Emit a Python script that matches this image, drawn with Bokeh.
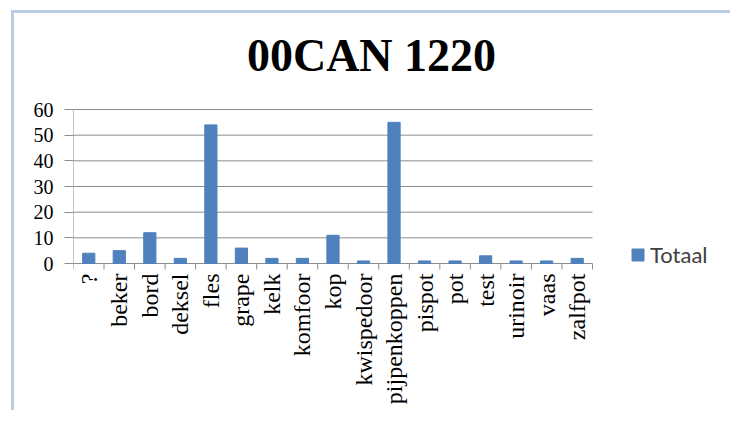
import math
from bokeh.plotting import figure
from bokeh.models import Range1d, FixedTicker, LinearAxis, Legend, LegendItem, ColumnDataSource, Label
from bokeh.embed import file_html
from bokeh.resources import INLINE

categories = ["?", "beker", "bord", "deksel", "fles", "grape", "kelk", "komfoor", "kop",
              "kwispedoor", "pijpenkoppen", "pispot", "pot", "test", "urinoir", "vaas", "zalfpot"]
totaal = [4, 5, 12, 2, 54, 6, 2, 2, 11, 1, 55, 1, 1, 3, 1, 1, 2]
y_ticks = [0, 10, 20, 30, 40, 50, 60]
title_text = "00CAN 1220"
series_name = "Totaal"

n = len(categories)
positions = list(range(1, n + 1))
boundaries = [i + 0.5 for i in range(0, n + 1)]
source = ColumnDataSource(dict(x=positions, top=totaal, cat=categories))
grid_src = ColumnDataSource(dict(x0=[0.5] * len(y_ticks), x1=[n + 0.5] * len(y_ticks),
                                 y=y_ticks))

GRAY = "#8C8C8C"
BAR = "#4F81BD"

W, H = 719, 400
LEFT = 59
ZERO_PX = 250           # canvas row of the 0 line
PLOT_TOP_PX = 96        # canvas row of the top gridline
BELOW_PX = 8            # frame continues a little below the 0 line
px_per_unit = (ZERO_PX - PLOT_TOP_PX) / (y_ticks[-1] - y_ticks[0])
y_top = y_ticks[0] + ZERO_PX / px_per_unit
y_bot = y_ticks[0] - BELOW_PX / px_per_unit
tick_len = 6 / px_per_unit
x_extra = 4.62          # room beyond the last category for the legend

p = figure(width=W, height=H, output_backend="svg", toolbar_location=None,
           x_range=Range1d(0.5, n + 0.5 + x_extra), y_range=Range1d(y_bot, y_top),
           min_border_left=LEFT, min_border_right=0, min_border_top=0,
           min_border_bottom=H - ZERO_PX - BELOW_PX,
           x_axis_type=None, y_axis_type=None)
p.outline_line_color = None
p.background_fill_color = "white"
p.border_fill_color = "white"
p.xgrid.visible = False
p.ygrid.visible = False

# horizontal gridlines (the 0 line is the category axis line), value axis line, category ticks
p.segment(x0="x0", x1="x1", y0="y", y1="y", source=grid_src, line_color=GRAY, line_width=1)
p.segment(x0=[0.5], x1=[0.5], y0=[y_ticks[0]], y1=[y_ticks[-1]], line_color=GRAY, line_width=1)
p.segment(x0=boundaries, x1=boundaries, y0=[y_ticks[0]] * len(boundaries),
          y1=[y_ticks[0] - tick_len] * len(boundaries), line_color=GRAY, line_width=1)

r = p.vbar(x="x", top="top", width=0.4, bottom=0, source=source,
           fill_color=BAR, line_color=BAR)

yaxis = LinearAxis(ticker=FixedTicker(ticks=y_ticks))
yaxis.axis_line_color = None
yaxis.major_tick_line_color = GRAY
yaxis.major_tick_out = 9
yaxis.major_tick_in = 0
yaxis.minor_tick_line_color = None
yaxis.major_label_standoff = 11
yaxis.major_label_text_font = "Liberation Serif"
yaxis.major_label_text_font_size = "20px"
yaxis.major_label_text_color = "black"
p.add_layout(yaxis, "left")

xaxis = LinearAxis(ticker=FixedTicker(ticks=positions))
xaxis.axis_line_color = None
xaxis.major_tick_line_color = None
xaxis.major_tick_out = 0
xaxis.major_tick_in = 0
xaxis.minor_tick_line_color = None
xaxis.major_label_overrides = {pos: cat for pos, cat in zip(positions, categories)}
xaxis.major_label_orientation = math.pi / 2
xaxis.major_label_standoff = 2
xaxis.major_label_text_font = "Liberation Serif"
xaxis.major_label_text_font_size = "24px"
xaxis.major_label_text_color = "black"
p.add_layout(xaxis, "below")

title = Label(x=298, y=216, x_units="screen", y_units="screen", text=title_text,
              text_align="center", text_baseline="alphabetic",
              text_font="Liberation Serif", text_font_style="bold",
              text_font_size="46px", text_color="black")
p.add_layout(title)

legend = Legend(items=[LegendItem(label=series_name, renderers=[r])], location=(557, 3))
legend.label_text_font = "Lato"
legend.label_text_font_size = "22px"
legend.label_text_color = "#404040"
legend.glyph_width = 15
legend.glyph_height = 15
legend.label_standoff = 5
legend.padding = 0
legend.margin = 0
legend.spacing = 0
legend.border_line_color = None
legend.background_fill_alpha = 0
p.add_layout(legend)

p.styles = {"margin-left": "11px", "margin-top": "10px",
            "border-left": "3px solid #B9CDE5", "border-top": "3px solid #B9CDE5"}

open("out.html", "w").write(file_html(p, INLINE))
